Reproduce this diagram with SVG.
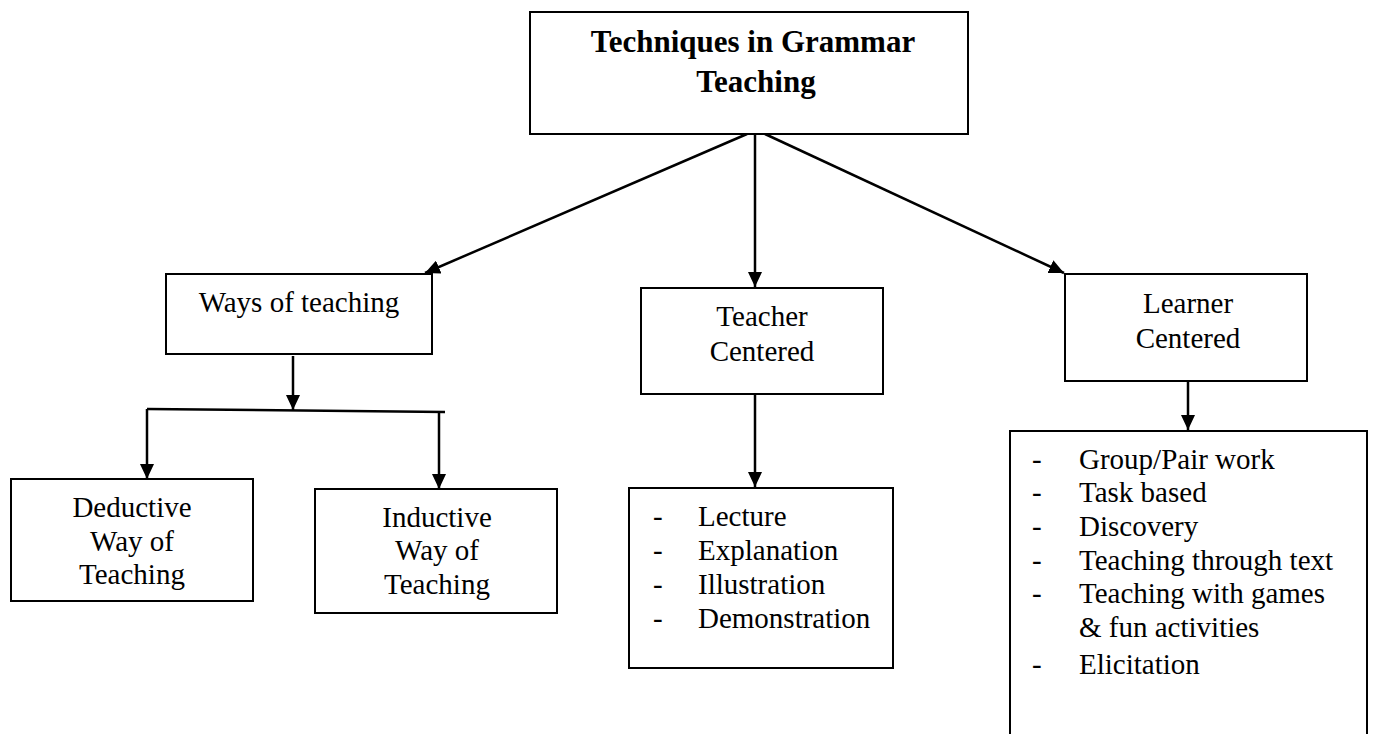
<svg xmlns="http://www.w3.org/2000/svg" width="1373" height="734" viewBox="0 0 1373 734">
<style>
.box{fill:#fff;stroke:#000;stroke-width:2}
.t{font-family:"Liberation Serif","Times New Roman",serif;font-size:29px;fill:#000}
.c{text-anchor:middle}
.b{font-weight:bold;font-size:31px}
.con{stroke:#000;stroke-width:2.5;fill:none}
</style>
<defs>
<marker id="ah" markerUnits="userSpaceOnUse" markerWidth="15" markerHeight="14" refX="15" refY="7" orient="auto">
<path d="M0,0 L15,7 L0,14 z" fill="#000"/>
</marker>
</defs>
<rect width="1373" height="734" fill="#fff"/>
<g id="connectors">
<line class="con" x1="747" y1="134" x2="425" y2="273" marker-end="url(#ah)"/>
<line class="con" x1="755" y1="134" x2="755" y2="287" marker-end="url(#ah)"/>
<line class="con" x1="765" y1="134" x2="1064" y2="273" marker-end="url(#ah)"/>
<line class="con" x1="293" y1="356" x2="293" y2="410" marker-end="url(#ah)"/>
<line class="con" x1="147" y1="409" x2="445" y2="412"/>
<line class="con" x1="147" y1="409" x2="147" y2="479" marker-end="url(#ah)"/>
<line class="con" x1="439" y1="412" x2="439" y2="489" marker-end="url(#ah)"/>
<line class="con" x1="755" y1="394" x2="755" y2="487" marker-end="url(#ah)"/>
<line class="con" x1="1188" y1="381" x2="1188" y2="430" marker-end="url(#ah)"/>
</g>
<g id="root">
<rect class="box" x="530" y="12" width="438" height="122"/>
<text class="t c b" x="753" y="52">Techniques in Grammar</text>
<text class="t c b" x="756" y="92">Teaching</text>
</g>
<g id="ways">
<rect class="box" x="166" y="274" width="266" height="80"/>
<text class="t c" x="299" y="312">Ways of teaching</text>
</g>
<g id="teacher">
<rect class="box" x="641" y="288" width="242" height="106"/>
<text class="t c" x="762" y="326">Teacher</text>
<text class="t c" x="762" y="361">Centered</text>
</g>
<g id="learner">
<rect class="box" x="1065" y="274" width="242" height="107"/>
<text class="t c" x="1188" y="313">Learner</text>
<text class="t c" x="1188" y="348">Centered</text>
</g>
<g id="deductive">
<rect class="box" x="11" y="479" width="242" height="122"/>
<text class="t c" x="132" y="517">Deductive</text>
<text class="t c" x="132" y="551">Way of</text>
<text class="t c" x="132" y="584">Teaching</text>
</g>
<g id="inductive">
<rect class="box" x="315" y="489" width="242" height="124"/>
<text class="t c" x="437" y="527">Inductive</text>
<text class="t c" x="437" y="560">Way of</text>
<text class="t c" x="437" y="594">Teaching</text>
</g>
<g id="teacher-list">
<rect class="box" x="629" y="488" width="264" height="180"/>
<text class="t" x="653" y="526">-</text><text class="t" x="698" y="526">Lecture</text>
<text class="t" x="653" y="560">-</text><text class="t" x="698" y="560">Explanation</text>
<text class="t" x="653" y="594">-</text><text class="t" x="698" y="594">Illustration</text>
<text class="t" x="653" y="628">-</text><text class="t" x="698" y="628">Demonstration</text>
</g>
<g id="learner-list">
<rect class="box" x="1010" y="431" width="357" height="320"/>
<text class="t" x="1032" y="469">-</text><text class="t" x="1079" y="469">Group/Pair work</text>
<text class="t" x="1032" y="502">-</text><text class="t" x="1079" y="502">Task based</text>
<text class="t" x="1032" y="536">-</text><text class="t" x="1079" y="536">Discovery</text>
<text class="t" x="1032" y="570">-</text><text class="t" x="1079" y="570">Teaching through text</text>
<text class="t" x="1032" y="603">-</text><text class="t" x="1079" y="603">Teaching with games</text>
<text class="t" x="1079" y="637">&amp; fun activities</text>
<text class="t" x="1032" y="674">-</text><text class="t" x="1079" y="674">Elicitation</text>
</g>
</svg>
